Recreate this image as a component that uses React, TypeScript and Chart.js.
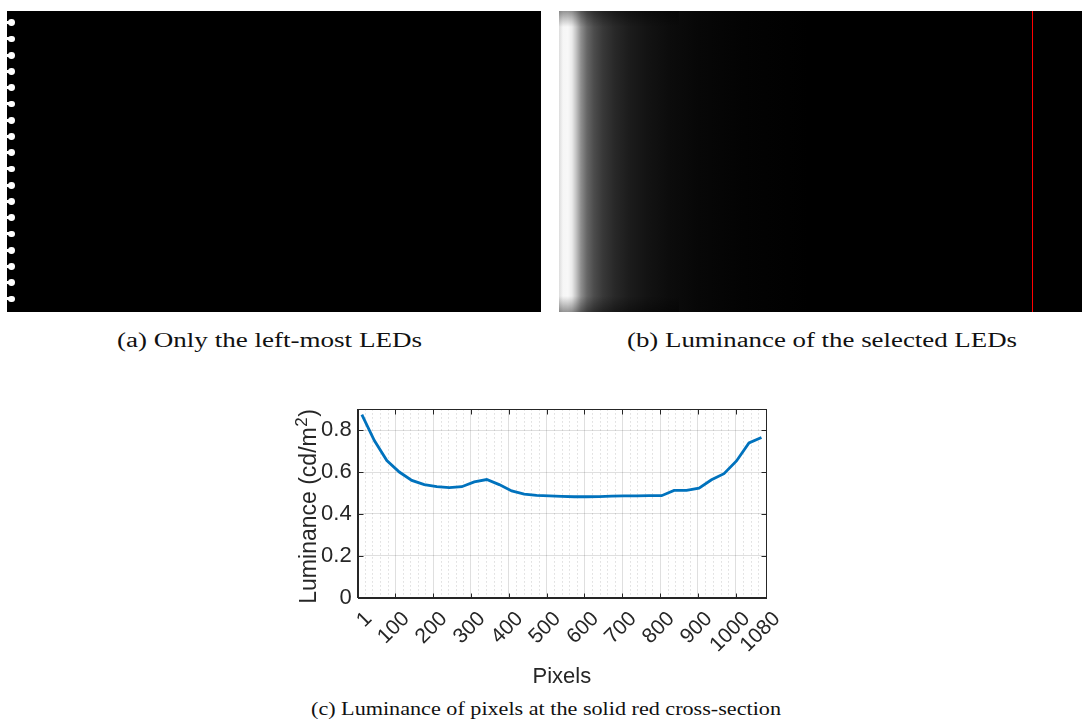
import React, { useEffect, useRef } from "react";
import { Chart, registerables } from "chart.js";

Chart.register(...registerables);

// ---- data ----
const pixelX = [12, 45, 78, 111, 144, 177, 210, 243, 276, 309, 342, 375, 408, 441, 474, 507, 540, 573, 606, 639, 672, 705, 738, 771, 804, 837, 870, 903, 936, 969, 1002, 1035, 1068];
const luminance = [0.874, 0.75, 0.655, 0.6, 0.56, 0.54, 0.53, 0.526, 0.53, 0.553, 0.564, 0.54, 0.51, 0.495, 0.489, 0.486, 0.484, 0.482, 0.482, 0.483, 0.485, 0.486, 0.486, 0.487, 0.487, 0.512, 0.512, 0.523, 0.563, 0.592, 0.653, 0.739, 0.765];
const xMajorTicks = [1, 100, 200, 300, 400, 500, 600, 700, 800, 900, 1000, 1080];
const yTicks = [0, 0.2, 0.4, 0.6, 0.8];
const xMinorStep = 20;

const captionA = "(a) Only the left-most LEDs";
const captionB = "(b) Luminance of the selected LEDs";
const captionC = "(c) Luminance of pixels at the solid red cross-section";
const xTitle = "Pixels";
const yTitleMain = "Luminance (cd/m";
const yTitleSup = "2";
const yTitleEnd = ")";

const AXIS = "#262626";
const FONT = "'Liberation Sans', Arial, Helvetica, sans-serif";

const matlabPlugin = {
  id: "matlabBox",
  beforeDatasetsDraw(chart: any) {
    const { ctx, chartArea: a, scales } = chart;
    const x = scales.x;
    ctx.save();
    ctx.strokeStyle = "rgba(38,38,38,0.16)";
    ctx.lineWidth = 1;
    ctx.setLineDash([1.5, 2.5]);
    for (let v = xMinorStep; v < 1080; v += xMinorStep) {
      if (v % 100 === 0) continue;
      const px = Math.round(x.getPixelForValue(v)) + 0.5;
      ctx.beginPath();
      ctx.moveTo(px, a.top);
      ctx.lineTo(px, a.bottom);
      ctx.stroke();
    }
    ctx.restore();
  },
  afterDraw(chart: any) {
    const { ctx, chartArea: a, scales } = chart;
    const x = scales.x;
    const y = scales.y;
    ctx.save();
    ctx.strokeStyle = AXIS;
    ctx.lineWidth = 1;
    const L = Math.round(a.left) + 0.5;
    const R = Math.round(a.right) + 0.5;
    const T = Math.round(a.top) + 0.5;
    const B = Math.round(a.bottom) + 0.5;
    ctx.strokeRect(L, T, R - L, B - T);
    const tl = 5;
    ctx.beginPath();
    for (const v of xMajorTicks) {
      const px = Math.round(x.getPixelForValue(v)) + 0.5;
      ctx.moveTo(px, B);
      ctx.lineTo(px, B - tl);
      ctx.moveTo(px, T);
      ctx.lineTo(px, T + tl);
    }
    for (const v of yTicks) {
      const py = Math.round(y.getPixelForValue(v)) + 0.5;
      ctx.moveTo(L, py);
      ctx.lineTo(L + tl, py);
      ctx.moveTo(R, py);
      ctx.lineTo(R - tl, py);
    }
    ctx.stroke();

    // y axis title with superscript
    const cy = (a.top + a.bottom) / 2 + 3;
    ctx.translate(36, cy);
    ctx.rotate(-Math.PI / 2);
    ctx.fillStyle = AXIS;
    ctx.textBaseline = "alphabetic";
    ctx.textAlign = "left";
    const mainFont = `23px ${FONT}`;
    const supFont = `17px ${FONT}`;
    ctx.font = mainFont;
    const w1 = ctx.measureText(yTitleMain).width;
    const w3 = ctx.measureText(yTitleEnd).width;
    ctx.font = supFont;
    const w2 = ctx.measureText(yTitleSup).width;
    const total = w1 + w2 + w3 + 1;
    let sx = -total / 2;
    ctx.font = mainFont;
    ctx.fillText(yTitleMain, sx, 0);
    sx += w1;
    ctx.font = supFont;
    ctx.fillText(yTitleSup, sx + 0.5, -9);
    sx += w2 + 1;
    ctx.font = mainFont;
    ctx.fillText(yTitleEnd, sx, 0);
    ctx.restore();
  },
};

function LuminanceChart() {
  const ref = useRef<HTMLCanvasElement | null>(null);
  useEffect(() => {
    if (!ref.current) return;
    const chart = new Chart(ref.current, {
      type: "line",
      data: {
        datasets: [
          {
            data: pixelX.map((v, i) => ({ x: v, y: luminance[i] })),
            borderColor: "#0072BD",
            borderWidth: 2.8,
            pointRadius: 0,
            tension: 0,
            fill: false,
          },
        ],
      },
      options: {
        responsive: false,
        animation: false,
        layout: { padding: { top: 15, right: 34, left: 0, bottom: 0 } },
        plugins: { legend: { display: false }, tooltip: { enabled: false } },
        scales: {
          x: {
            type: "linear",
            min: 1,
            max: 1080,
            afterBuildTicks: (s: any) => {
              s.ticks = xMajorTicks.map((v) => ({ value: v }));
            },
            afterFit: (s: any) => {
              s.height = 92.3;
            },
            ticks: {
              autoSkip: false,
              minRotation: 45,
              maxRotation: 45,
              color: AXIS,
              padding: 9,
              labelOffset: 11,
              font: { family: FONT, size: 21 },
              callback: (v: any) => String(v),
            },
            grid: { color: "rgba(38,38,38,0.15)", drawTicks: false },
            border: { display: true, color: AXIS },
            title: {
              display: true,
              text: xTitle,
              color: AXIS,
              font: { family: FONT, size: 22 },
              padding: { top: 0, bottom: 0 },
            },
          },
          y: {
            type: "linear",
            min: 0,
            max: 0.9,
            afterBuildTicks: (s: any) => {
              s.ticks = yTicks.map((v) => ({ value: v }));
            },
            afterFit: (s: any) => {
              s.width = 77.7;
            },
            ticks: {
              color: AXIS,
              padding: 6,
              font: { family: FONT, size: 22 },
              callback: (v: any) => (v === 0 ? "0" : Number(v).toFixed(1)),
            },
            grid: { color: "rgba(38,38,38,0.15)", drawTicks: false },
            border: { display: true, color: AXIS },
          },
        },
      },
      plugins: [matlabPlugin],
    });
    return () => chart.destroy();
  }, []);
  return (
    <canvas
      ref={ref}
      width={520}
      height={300}
      style={{ position: "absolute", left: 280, top: 390, width: 520, height: 300 }}
    />
  );
}

function DotsImage() {
  const dots: React.ReactElement[] = [];
  for (let i = 0; i < 18; i++) {
    const cy = 22.7 + i * 16.25 - 11;
    dots.push(
      <div
        key={"c" + i}
        style={{
          position: "absolute",
          left: 1.2,
          top: cy - 3.4,
          width: 6.8,
          height: 6.8,
          borderRadius: "50%",
          background: "#fff",
        }}
      />
    );
    dots.push(
      <div
        key={"r" + i}
        style={{ position: "absolute", left: 0, top: cy - 1.5, width: 2.5, height: 3, background: "#fff" }}
      />
    );
  }
  return (
    <div style={{ position: "absolute", left: 7, top: 11, width: 534, height: 301, background: "#000", overflow: "hidden" }}>
      {dots}
    </div>
  );
}

function GradientImage() {
  return (
    <div
      style={{
        position: "absolute",
        left: 559,
        top: 11,
        width: 523,
        height: 301,
        background:
          "linear-gradient(to right, #dcdcdc 0px, #f6f6f6 4px, #f8f8f8 9px, #eaeaea 13px, #c4c4c4 17px, #8e8e8e 22px, #666 28px, #4c4c4c 35px, #383838 44px, #282828 56px, #1c1c1c 70px, #131313 88px, #0c0c0c 110px, #070707 140px, #030303 185px, #000 250px)",
        overflow: "hidden",
      }}
    >
      <div
        style={{
          position: "absolute",
          left: 0,
          top: 0,
          width: 120,
          height: 301,
          background:
            "linear-gradient(to bottom, rgba(0,0,0,0.4) 0px, rgba(0,0,0,0) 16px, rgba(0,0,0,0) 285px, rgba(0,0,0,0.4) 301px)",
        }}
      />
      <div style={{ position: "absolute", left: 472.5, top: 0, width: 1.5, height: 301, background: "#ff0000" }} />
    </div>
  );
}

export default function App() {
  const serif = "'Liberation Serif', 'DejaVu Serif', serif";
  return (
    <div style={{ position: "absolute", left: 0, top: 0, width: 1082, height: 727, background: "#fff", overflow: "hidden" }}>
      <DotsImage />
      <GradientImage />
      <svg width={1082} height={727} style={{ position: "absolute", left: 0, top: 0, pointerEvents: "none" }}>
        <text x={117} y={347} fontFamily={serif} fontSize={20} fill="#111" textLength={305} lengthAdjust="spacingAndGlyphs">
          {captionA}
        </text>
        <text x={627} y={347} fontFamily={serif} fontSize={20} fill="#111" textLength={390} lengthAdjust="spacingAndGlyphs">
          {captionB}
        </text>
        <text x={311} y={715} fontFamily={serif} fontSize={18} fill="#111" textLength={470} lengthAdjust="spacingAndGlyphs">
          {captionC}
        </text>
      </svg>
      <LuminanceChart />
    </div>
  );
}
